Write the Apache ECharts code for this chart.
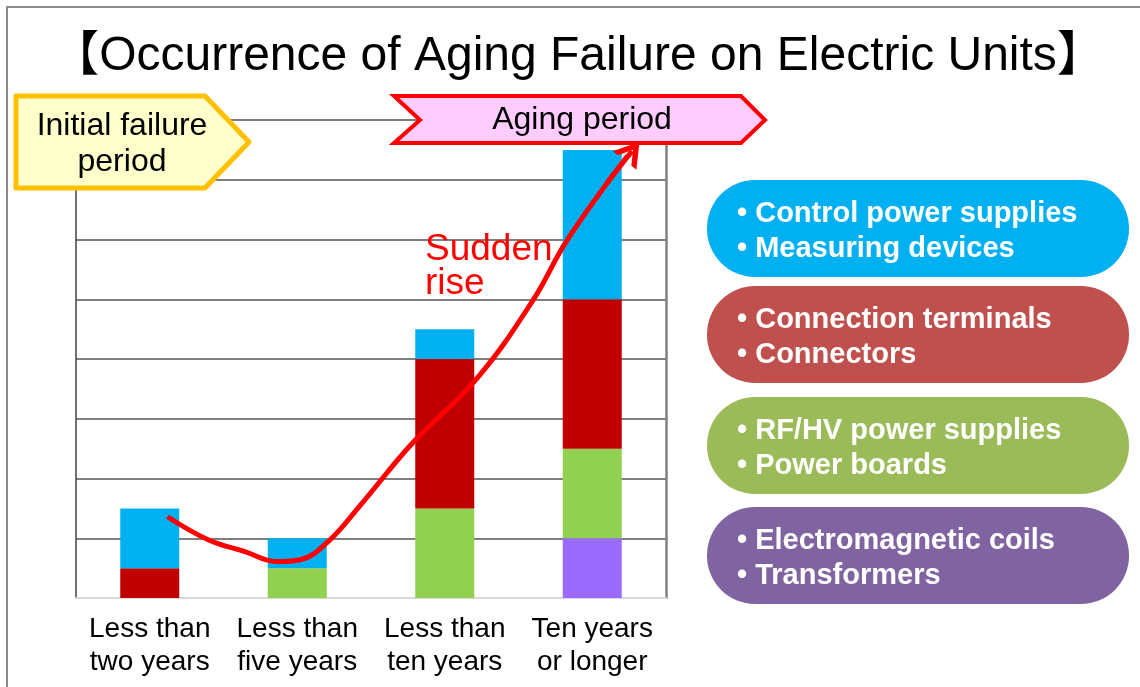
<!DOCTYPE html>
<html>
<head>
<meta charset="utf-8">
<script src="https://cdn.jsdelivr.net/npm/echarts@6/dist/echarts.min.js"></script>
<style>html,body{margin:0;padding:0;background:#fff}#c{width:1140px;height:687px}</style>
</head>
<body>
<div id="c"></div>
<script>
const categories = ['Less than\ntwo years', 'Less than\nfive years', 'Less than\nten years', 'Ten years\nor longer'];
const coilsTransformers = [0, 0, 0, 1];
const rfHvPower = [0, 0.5, 1.5, 1.5];
const terminalsConnectors = [0.5, 0, 2.5, 2.5];
const controlMeasuring = [1, 0.5, 0.5, 2.5];
const curveX = [0.62, 0.90, 1.14, 1.36, 1.52, 1.72, 1.93, 2.28, 2.72, 3.10, 3.33, 3.74];
const curveY = [1.36, 0.97, 0.78, 0.61, 0.64, 0.97, 1.56, 2.59, 3.68, 4.99, 5.99, 7.40];
const arrowFrom = [3.60, 6.95];
const arrowTo = [3.77, 7.48];
const yTicks = [0, 1, 2, 3, 4, 5, 6, 7, 8];
const titleText = '【Occurrence of Aging Failure on Electric Units】';
const legendItems = [
  ['• Control power supplies', '• Measuring devices'],
  ['• Connection terminals', '• Connectors'],
  ['• RF/HV power supplies', '• Power boards'],
  ['• Electromagnetic coils', '• Transformers']
];

const FONT = '"Liberation Sans", Arial, "Noto Sans CJK JP", sans-serif';
const pillColors = ['#00B0F0', '#C0504D', '#9BBB59', '#8064A2'];
const pillTops = [180, 286, 397, 507];

const chart = echarts.init(document.getElementById('c'), null, {renderer: 'canvas'});

const graphics = [
  {type: 'rect', z: 100, shape: {x: 7, y: 7, width: 1140, height: 700}, style: {fill: 'none', stroke: '#8c8c8c', lineWidth: 2}},
  {type: 'text', z: 100, style: {text: titleText, x: 578, y: 57, textAlign: 'center', textVerticalAlign: 'middle', fontSize: 48, fontFamily: FONT, fill: '#000'}},
  {type: 'polygon', z: 100, shape: {points: [[16, 96], [205, 96], [249, 142], [205, 188], [16, 188]]}, style: {fill: '#FFFFCC', stroke: '#FFC000', lineWidth: 5, lineJoin: 'round'}},
  {type: 'text', z: 101, style: {text: 'Initial failure\nperiod', x: 122, y: 144, textAlign: 'center', textVerticalAlign: 'middle', fontSize: 32, lineHeight: 36, fontFamily: FONT, fill: '#000'}},
  {type: 'polygon', z: 100, shape: {points: [[394, 96], [741, 96], [765, 120], [741, 143], [394, 143], [420, 120]]}, style: {fill: '#FFCCFF', stroke: '#FF0000', lineWidth: 4, lineJoin: 'miter'}},
  {type: 'text', z: 101, style: {text: 'Aging period', x: 582, y: 120, textAlign: 'center', textVerticalAlign: 'middle', fontSize: 32, fontFamily: FONT, fill: '#000'}},
  {type: 'text', z: 101, style: {text: 'Sudden\nrise', x: 425, y: 267, textAlign: 'left', textVerticalAlign: 'middle', fontSize: 37, lineHeight: 34, fontFamily: FONT, fill: '#FF0000'}}
];
legendItems.forEach((lines, i) => {
  graphics.push({type: 'rect', z: 100, shape: {x: 707, y: pillTops[i], width: 422, height: 97, r: 48}, style: {fill: pillColors[i]}});
  graphics.push({type: 'text', z: 101, style: {text: lines.join('\n'), x: 737, y: pillTops[i] + 51, textAlign: 'left', textVerticalAlign: 'middle', fontSize: 29, fontWeight: 'bold', lineHeight: 35, fontFamily: FONT, fill: '#fff'}});
});

const barBase = {type: 'bar', stack: 'total', barWidth: 59, xAxisIndex: 0, yAxisIndex: 0, z: 2};

const option = {
  animation: false,
  backgroundColor: '#fff',
  grid: {left: 76, right: 474, top: 120, bottom: 89, containLabel: false},
  xAxis: [
    {type: 'category', data: categories, axisTick: {show: false},
     axisLine: {show: true, lineStyle: {color: '#d9d9d9', width: 2}},
     axisLabel: {fontSize: 28, lineHeight: 33, color: '#000', fontFamily: FONT, margin: 15, interval: 0},
     splitLine: {show: false}},
    {type: 'value', min: 0, max: 4, show: false}
  ],
  yAxis: [
    {type: 'value', min: yTicks[0], max: yTicks[yTicks.length - 1], interval: 1,
     axisLabel: {show: false}, axisTick: {show: false},
     axisLine: {show: true, lineStyle: {color: '#404040', width: 1.5}},
     splitLine: {show: true, showMinLine: false, lineStyle: {color: '#555555', width: 1.5}}},
    {type: 'value', min: 0, max: 8, position: 'right', axisLabel: {show: false}, axisTick: {show: false},
     axisLine: {show: true, lineStyle: {color: '#808080', width: 2.5}}, splitLine: {show: false}}
  ],
  graphic: graphics,
  series: [
    Object.assign({}, barBase, {name: 'Electromagnetic coils / Transformers', data: coilsTransformers, itemStyle: {color: '#9B6BFF'}}),
    Object.assign({}, barBase, {name: 'RF/HV power supplies / Power boards', data: rfHvPower, itemStyle: {color: '#92D050'}}),
    Object.assign({}, barBase, {name: 'Connection terminals / Connectors', data: terminalsConnectors, itemStyle: {color: '#C00000'}}),
    Object.assign({}, barBase, {name: 'Control power supplies / Measuring devices', data: controlMeasuring, itemStyle: {color: '#00B0F0'}}),
    {type: 'line', xAxisIndex: 1, yAxisIndex: 0, z: 10, smooth: 0.4, symbol: 'none',
     data: curveX.map((x, i) => [x, curveY[i]]),
     lineStyle: {color: '#FF0000', width: 5},
     markLine: {silent: true, animation: false, symbol: ['none', 'path://M0,22 L14,0 L28,22 L22,22 L14,9.5 L6,22 Z'], symbolSize: [30, 24],
       label: {show: false}, lineStyle: {color: '#FF0000', width: 5, type: 'solid'},
       data: [[{coord: arrowFrom}, {coord: arrowTo}]]}}
  ]
};
chart.setOption(option);
</script>
</body>
</html>
